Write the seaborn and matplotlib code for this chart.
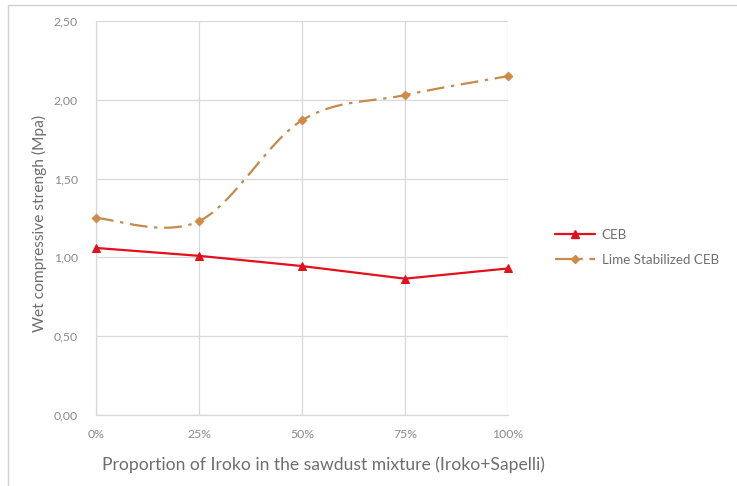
import numpy as np
import pandas as pd
import matplotlib
matplotlib.use("Agg")
import matplotlib.pyplot as plt
from matplotlib.lines import Line2D
from matplotlib.patches import Rectangle
import seaborn as sns

# ---- data ----
proportion = [0, 25, 50, 75, 100]
x_labels = ["0%", "25%", "50%", "75%", "100%"]
ceb = [1.06, 1.01, 0.945, 0.865, 0.93]
lime_ceb = [1.25, 1.23, 1.87, 2.03, 2.15]
y_ticks = [0.0, 0.5, 1.0, 1.5, 2.0, 2.5]

red = "#E3101C"
brown = "#C48A4E"
marker_orange = "#CF8A45"
grey_text = "#8A8A8A"
label_grey = "#6E6E6E"


def smooth_curve(xs, ys, n=40):
    # Excel-like smoothed line (Catmull-Rom through the points)
    xs = np.asarray(xs, float)
    ys = np.asarray(ys, float)
    px = np.concatenate([[xs[0]], xs, [xs[-1]]])
    py = np.concatenate([[ys[0]], ys, [ys[-1]]])
    out_x, out_y = [], []
    for i in range(1, len(px) - 2):
        t = np.linspace(0, 1, n)
        h00 = 2 * t**3 - 3 * t**2 + 1
        h10 = t**3 - 2 * t**2 + t
        h01 = -2 * t**3 + 3 * t**2
        h11 = t**3 - t**2
        mx0 = (px[i + 1] - px[i - 1]) / 2
        mx1 = (px[i + 2] - px[i]) / 2
        my0 = (py[i + 1] - py[i - 1]) / 2
        my1 = (py[i + 2] - py[i]) / 2
        out_x.extend(h00 * px[i] + h10 * mx0 + h01 * px[i + 1] + h11 * mx1)
        out_y.extend(h00 * py[i] + h10 * my0 + h01 * py[i + 1] + h11 * my1)
    return np.array(out_x), np.array(out_y)


sns.set_style("white")
plt.rcParams["font.family"] = ["Lato", "DejaVu Sans"]

fig = plt.figure(figsize=(7.37, 4.86), dpi=100)
ax = fig.add_axes([96 / 737, 71 / 486, 412 / 737, 394 / 486])

df_ceb = pd.DataFrame({"x": proportion, "y": ceb})
sns.lineplot(data=df_ceb, x="x", y="y", ax=ax, color=red, linewidth=1.6,
             marker="^", markersize=6, markeredgecolor=red, zorder=4)

sx, sy = smooth_curve(proportion, lime_ceb)
df_smooth = pd.DataFrame({"x": sx, "y": sy})
sns.lineplot(data=df_smooth, x="x", y="y", ax=ax, color=brown, linewidth=1.6,
             sort=False, zorder=3, dashes=False)
ax.lines[-1].set_dashes([8, 3, 1.5, 3])
df_lime = pd.DataFrame({"x": proportion, "y": lime_ceb})
sns.scatterplot(data=df_lime, x="x", y="y", ax=ax, color=marker_orange,
                marker="D", s=22, edgecolor=marker_orange, zorder=5)

ax.set_xlim(0, 100)
ax.set_ylim(0, 2.5)
ax.set_xticks(proportion)
ax.set_xticklabels(x_labels)
ax.set_yticks(y_ticks)
ax.set_yticklabels([f"{v:.2f}".replace(".", ",") for v in y_ticks])
ax.grid(True, color="#D9D9D9", linewidth=0.9)
for s in ["top", "right"]:
    ax.spines[s].set_visible(False)
for s in ["left", "bottom"]:
    ax.spines[s].set_color("#D9D9D9")
    ax.spines[s].set_linewidth(0.9)
ax.tick_params(axis="both", labelsize=8.8, colors=grey_text, length=0)
ax.tick_params(axis="x", pad=10)
ax.tick_params(axis="y", pad=13)
ax.set_xlabel("Proportion of Iroko in the sawdust mixture (Iroko+Sapelli)",
              fontsize=12.6, color=label_grey)
ax.xaxis.set_label_coords(0.553, -0.105)
ax.set_ylabel("Wet compressive strengh (Mpa)", fontsize=11.2, color=label_grey)
ax.yaxis.set_label_coords(-0.12, 0.485)
for ln in ax.lines:
    ln.set_clip_on(False)
for c in ax.collections:
    c.set_clip_on(False)

handles = [
    Line2D([0], [0], color=red, lw=1.6, marker="^", markersize=6),
    Line2D([0], [0], color=brown, lw=1.6, marker="D", markersize=4.5,
           markerfacecolor=marker_orange, markeredgecolor=marker_orange,
           dashes=[8, 3, 1.5, 3]),
]
fig.legend(handles, ["CEB", "Lime Stabilized CEB"], loc="upper left",
           bbox_to_anchor=(543 / 737, 1 - 217 / 486), frameon=False,
           fontsize=9.6, labelcolor=label_grey, handlelength=3.0,
           labelspacing=0.95, handletextpad=0.5)

# outer chart frame
fig.patches.append(Rectangle((8 / 737, -0.02), 1.0, 1 - 5 / 486 + 0.02,
                             transform=fig.transFigure, fill=False,
                             edgecolor="#D0D0D0", linewidth=1.0))

fig.savefig("out.png", dpi=100)
